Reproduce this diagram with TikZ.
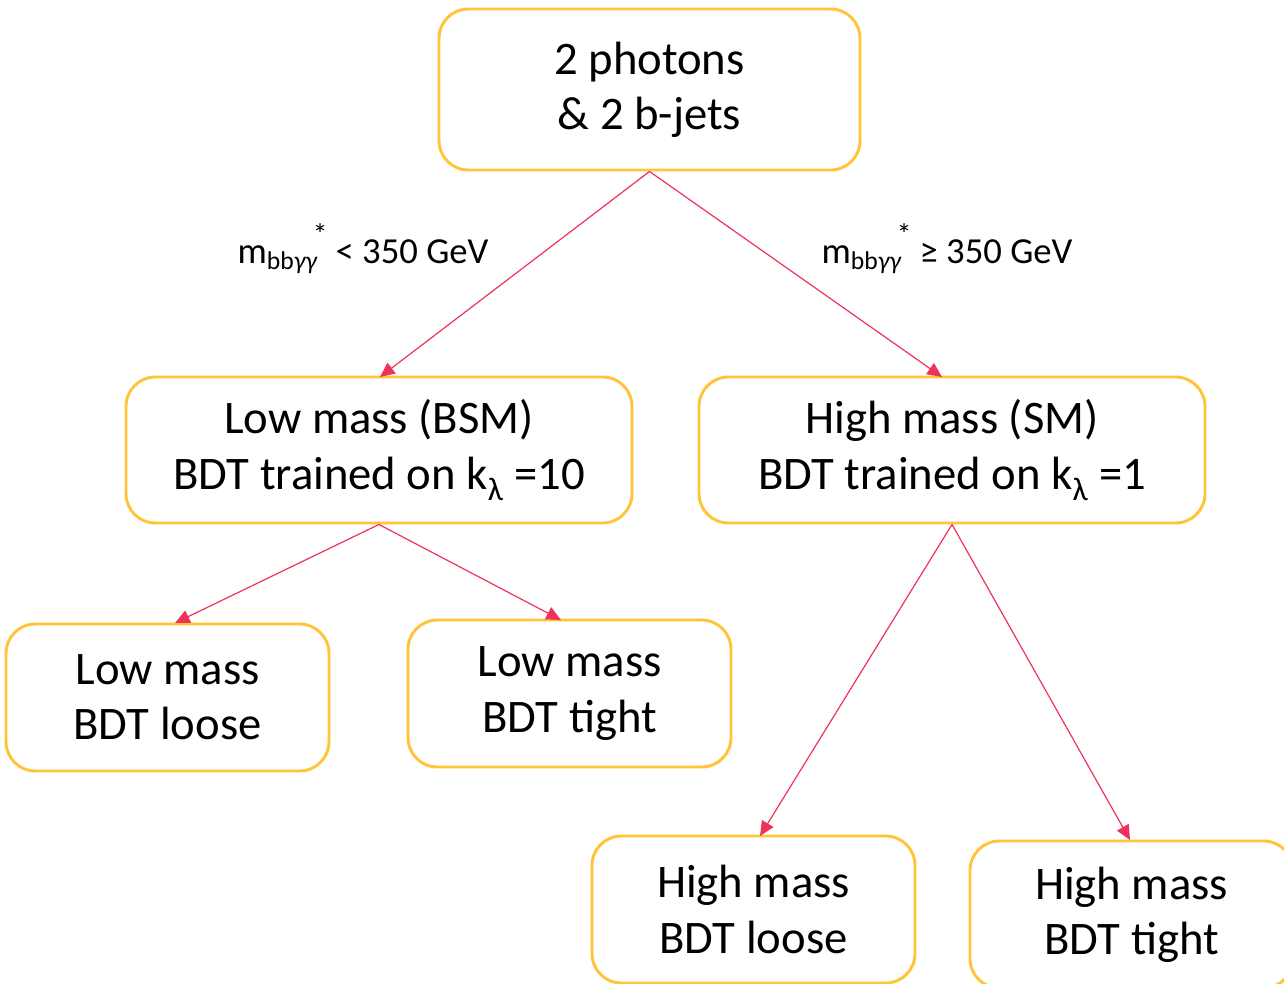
\documentclass[tikz,border=0pt]{standalone}
\usepackage{fontspec}
\setmainfont{Carlito}
\usetikzlibrary{arrows.meta}
\definecolor{boxgold}{HTML}{FFC437}
\definecolor{arrred}{HTML}{EE3359}
\tikzset{
  box/.style={draw=boxgold, line width=2.2pt, rounded corners=22pt, fill=white,
    minimum width=#1*0.75pt, align=center, inner sep=0pt,
    font=\fontsize{35}{41.5}\selectfont},
  conn/.style={draw=arrred, line width=0.9pt, -{Triangle[length=11pt,width=10pt]}},
  cond/.style={font=\fontsize{27.5}{30}\selectfont, inner sep=0pt}
}
\newcommand{\mbb}{m\textsubscript{bb\textit{γγ}}\kern-0.15em\raisebox{0.5em}{\fontsize{22}{22}\selectfont *}}
\begin{document}
\begin{tikzpicture}[x=0.75pt,y=-0.75pt]
\useasboundingbox (0,0) rectangle (1284,984);
\begin{scope}
\clip (0,0) rectangle (1284,984);
\node[box=421, minimum height=161*0.75pt] (top) at (649.5,89.5) {2 photons\\\& 2 b-jets};
\node[box=506, minimum height=146*0.75pt] (low) at (379,450) {Low mass (BSM)\\BDT trained on k\textsubscript{λ} =10};
\node[box=506, minimum height=146*0.75pt] (high) at (952,450) {High mass (SM)\\BDT trained on k\textsubscript{λ} =1};
\node[box=323, minimum height=147*0.75pt] (ll) at (167.5,697.5) {Low mass\\BDT loose};
\node[box=323, minimum height=147*0.75pt] (lt) at (569.5,693.5) {Low mass\\BDT tight};
\node[box=323, minimum height=147*0.75pt] (hl) at (753.5,909.5) {High mass\\BDT loose};
\node[box=323, minimum height=147*0.75pt] (ht) at (1131.5,914.5) {High mass\\BDT tight};
\end{scope}
\coordinate (lowin) at (380,377);
\coordinate (highin) at (942,377);
\coordinate (llin) at (175,623);
\coordinate (ltin) at (561,620);
\coordinate (hlin) at (760,836);
\coordinate (htin) at (1130,840);
\draw[conn] (top.south) -- (lowin);
\draw[conn] (top.south) -- (highin);
\draw[conn] (low.south) -- (llin);
\draw[conn] (low.south) -- (ltin);
\draw[conn] (high.south) -- (hlin);
\draw[conn] (high.south) -- (htin);
\node[cond] (c1) at (363,249) {\mbb\ < 350 GeV};
\node[cond] (c2) at (947,249) {\mbb\ ≥ 350 GeV};
\end{tikzpicture}
\end{document}
